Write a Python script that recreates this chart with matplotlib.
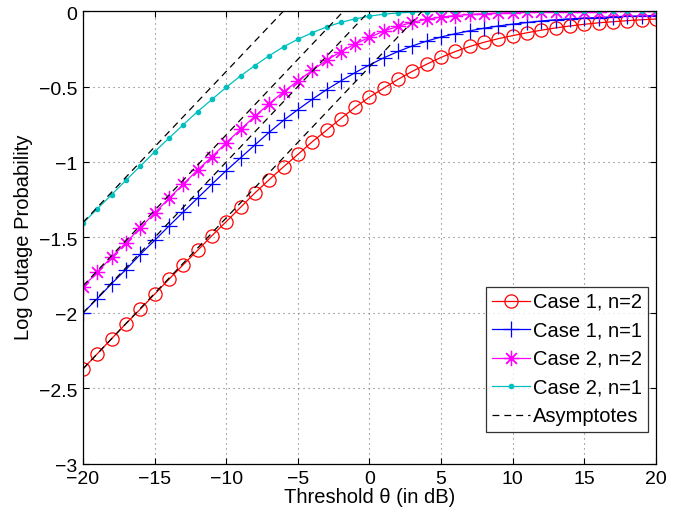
import numpy as np
import matplotlib
matplotlib.use("Agg")
import matplotlib.pyplot as plt
from matplotlib.transforms import ScaledTranslation

plt.rcParams['font.family'] = ['Liberation Sans', 'DejaVu Sans']
plt.rcParams['axes.unicode_minus'] = True

# Threshold grid in dB
theta_db = np.arange(-20, 21)

# Log10 outage probability for each scheme
case1_n2 = [-2.37, -2.27, -2.17, -2.07, -1.975, -1.875, -1.777, -1.68, -1.585, -1.488,
            -1.395, -1.30, -1.205, -1.117, -1.032, -0.95, -0.866, -0.79, -0.712, -0.638,
            -0.570, -0.511, -0.452, -0.399, -0.352, -0.307, -0.268, -0.235, -0.207, -0.183,
            -0.163, -0.144, -0.127, -0.112, -0.099, -0.088, -0.078, -0.071, -0.064, -0.058,
            -0.053]
case1_n1 = [-2.0, -1.905, -1.805, -1.712, -1.612, -1.519, -1.424, -1.331, -1.239, -1.147,
            -1.057, -0.972, -0.887, -0.803, -0.724, -0.653, -0.585, -0.521, -0.463, -0.408,
            -0.357, -0.310, -0.268, -0.231, -0.199, -0.172, -0.150, -0.131, -0.114, -0.099,
            -0.087, -0.076, -0.066, -0.058, -0.052, -0.047, -0.043, -0.039, -0.035, -0.033,
            -0.031]
case2_n2 = [-1.827, -1.728, -1.630, -1.534, -1.435, -1.338, -1.241, -1.146, -1.053, -0.965,
            -0.872, -0.784, -0.697, -0.614, -0.535, -0.463, -0.393, -0.327, -0.269, -0.218,
            -0.174, -0.133, -0.101, -0.075, -0.055, -0.040, -0.030, -0.023, -0.018, -0.014,
            -0.011, -0.009, -0.007, -0.006, -0.005, -0.004, -0.004, -0.003, -0.003, -0.002,
            -0.002]
case2_n1 = [-1.405, -1.31, -1.216, -1.121, -1.027, -0.933, -0.842, -0.753, -0.666, -0.586,
            -0.505, -0.430, -0.361, -0.296, -0.237, -0.187, -0.144, -0.106, -0.075, -0.052,
            -0.034, -0.021, -0.013, -0.008, -0.005, -0.003, -0.002, -0.0015, -0.001, -0.001,
            -0.001, -0.001, -0.001, -0.001, -0.001, -0.001, -0.001, -0.001, -0.001, -0.001,
            -0.001]

# High-SNR asymptotes: end points at -20 dB and +20 dB
asym_x = [-20, 20]
asym_case1_n2 = [-2.37, 1.63]
asym_case1_n1 = [-2.0, 2.0]
asym_case2_n2 = [-1.82, 2.18]
asym_case2_n1 = [-1.40, 2.60]

xticks = [-20, -15, -10, -5, 0, 5, 10, 15, 20]
xtick_labels = ['\u221220', '\u221215', '\u221210', '\u22125', '0', '5', '10', '15', '20']
yticks = [0, -0.5, -1, -1.5, -2, -2.5, -3]
ytick_labels = ['0', '\u22120.5', '\u22121', '\u22121.5', '\u22122', '\u22122.5', '\u22123']

fig = plt.figure(figsize=(6.94, 5.12), dpi=100)
ax = fig.add_axes([0.1196, 0.0938, 0.8256, 0.8847])

lw = 0.9
ax.plot(theta_db, case1_n2, color='red', marker='o', ms=9.5, mfc='none', mew=0.9,
        lw=lw, label='Case 1, n=2')
ax.plot(theta_db, case1_n1, color='blue', marker='+', ms=11, mew=0.9,
        lw=lw, label='Case 1, n=1')
ax.plot(theta_db, case2_n2, color='magenta', marker=(8, 2, 0), ms=11, mew=0.9,
        lw=lw, label='Case 2, n=2')
ax.plot(theta_db, case2_n1, color=(0, 0.75, 0.75), marker='.', ms=6,
        lw=lw, label='Case 2, n=1')

dash = (0, (5.5, 4))
for i, yy in enumerate([asym_case1_n2, asym_case1_n1, asym_case2_n2, asym_case2_n1]):
    ax.plot(asym_x, yy, color='black', ls=dash, lw=lw,
            label='Asymptotes' if i == 0 else None)

ax.set_xlim(-20, 20)
ax.set_ylim(-3, 0)
ax.set_xticks(xticks)
ax.set_xticklabels(xtick_labels)
ax.set_yticks(yticks)
ax.set_yticklabels(ytick_labels)
ax.tick_params(direction='in', top=True, right=True, length=4, width=0.8,
               labelsize=14)
ax.tick_params(axis='x', pad=5)
ax.tick_params(axis='y', pad=4)
for s in ax.spines.values():
    s.set_linewidth(0.9)

# y tick labels sit slightly below their ticks
shift = ScaledTranslation(0, -2 / 100, fig.dpi_scale_trans)
for lbl in ax.get_yticklabels():
    lbl.set_transform(lbl.get_transform() + shift)

ax.grid(True, color='0.45', ls=(0, (1, 3.5)), lw=0.8)
ax.set_axisbelow(True)

ax.set_xlabel('Threshold \u03b8 (in dB)', fontsize=14.5, labelpad=0)
ax.set_ylabel('Log Outage Probability', fontsize=14.5, labelpad=4)

leg = ax.legend(loc='lower right', bbox_to_anchor=(0.986, 0.071), borderaxespad=0,
                fontsize=14.5, frameon=True, fancybox=False, handlelength=1.9,
                handletextpad=0.15, labelspacing=0.47, borderpad=0.3)
leg.get_frame().set_edgecolor('black')
leg.get_frame().set_linewidth(0.9)

fig.savefig('out.png', dpi=100)
